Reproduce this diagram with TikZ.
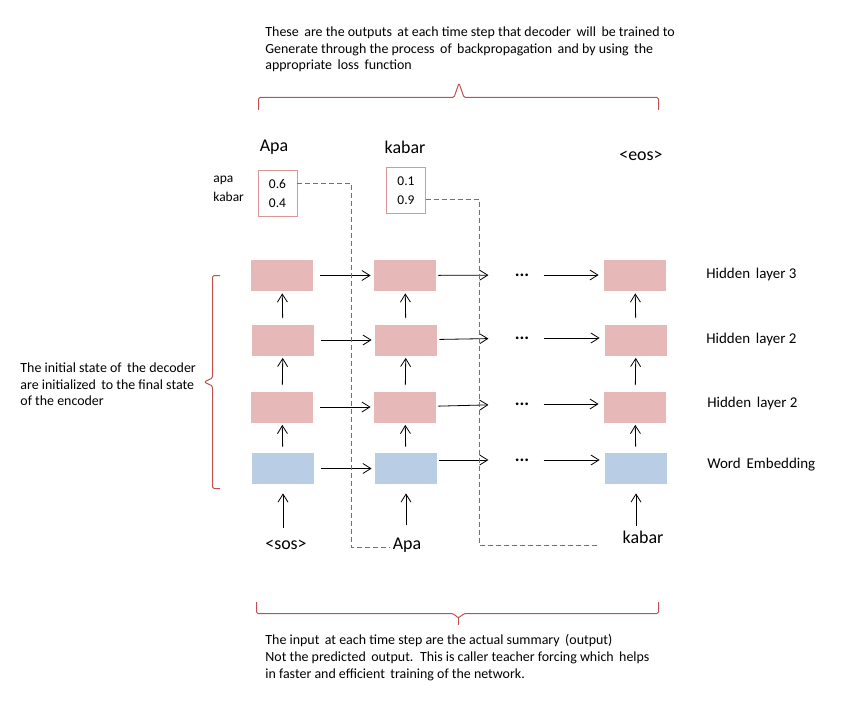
\documentclass[tikz,border=0pt]{standalone}
\usepackage{fontspec}
\setmainfont{Carlito}
\usetikzlibrary{arrows.meta,positioning}
\definecolor{hidpink}{HTML}{E6B9B8}
\definecolor{embblue}{HTML}{B9CDE5}
\definecolor{probred}{HTML}{D99694}
\definecolor{teachred}{HTML}{C0504D}

\begin{document}
\begin{tikzpicture}[
    x=1bp, y=-1bp, line width=0.8bp,
    every node/.style={font=\fontsize{14}{17}\selectfont},
    hidden/.style={fill=hidpink, minimum width=62bp, minimum height=31bp, inner sep=0pt},
    embed/.style={fill=embblue, minimum width=62bp, minimum height=31bp, inner sep=0pt},
    word/.style={font=\fontsize{18}{20}\selectfont, inner sep=2pt},
    probbox/.style={draw=probred, line width=1bp, minimum width=39bp, minimum height=46bp, outer sep=0pt, align=center, inner sep=0pt, font=\fontsize{13.5}{19}\selectfont},
    teach/.style={dash pattern=on 5bp off 3bp, line width=1.1bp},
    curly/.style={line width=1bp, rounded corners=1.5bp},
    note/.style={align=left, anchor=north west, inner sep=0pt},
    layer/.style={anchor=west, inner sep=0pt, font=\fontsize{15}{17}\selectfont},
    gap/.style={inner sep=0pt, font=\fontsize{18}{20}\bfseries},
    >={Straight Barb[length=8bp,width=10bp]}
  ]
    \useasboundingbox (0,0) rectangle (852,703);

    % first time step
    \node[hidden] (hid3a) at (282,275.5) {};
    \node[hidden] (hid2a) at (283,340) {};
    \node[hidden] (hid1a) at (282,407) {};
    \node[embed] (emba) at (283,468.5) {};
    % second time step
    \node[hidden] (hid3b) at (405,275.5) {};
    \node[hidden] (hid2b) at (406,340) {};
    \node[hidden] (hid1b) at (405,407) {};
    \node[embed] (embb) at (406,468.5) {};
    % last time step
    \node[hidden] (hid3c) at (635,275.5) {};
    \node[hidden] (hid2c) at (636,340) {};
    \node[hidden] (hid1c) at (635,407) {};
    \node[embed] (embc) at (636,468.5) {};

    \node[gap] (dots3) at (522,275) {...};
    \node[gap] (dots2) at (522,338) {...};
    \node[gap] (dots1) at (522,404) {...};
    \node[gap] (dots0) at (522,460) {...};

    % layer names
    \node[layer] (lab3) at (706,275) {Hidden\, layer 3};
    \node[layer] (lab2) at (706,340) {Hidden\, layer 2};
    \node[layer] (lab1) at (707,404) {Hidden\, layer 2};
    \node[layer] (lab0) at (707,465) {Word\, Embedding};

    % inputs and outputs
    \node[word] (insos) at (286,545) {<sos>};
    \node[word] (inapa) at (407,545) {Apa};
    \node[word] (inkabar) at (643,537) {kabar};
    \node[word] (outapa) at (274,147) {Apa};
    \node[word] (outkabar) at (405,147) {kabar};
    \node[word] (outeos) at (641,156) {<eos>};

    \node[probbox] (proba) at (277.5,193.5) {0.6\\0.4};
    \node[probbox] (probb) at (406,190.5) {0.1\\0.9};
    \node[note, font=\fontsize{13.5}{19}\selectfont] (vocab) at (213,176) {apa\\kabar};

    % horizontal connections
    \draw[->, shorten <=7bp, shorten >=3bp] (hid3a) -- (hid3b);
    \draw[->, shorten <=7bp, shorten >=3bp] (hid2a) -- (hid2b);
    \draw[->, shorten <=7bp, shorten >=3bp] (hid1a) -- (hid1b);
    \draw[->, shorten <=7bp, shorten >=3bp] (emba.east |- embb) -- (embb);
    \draw[->, shorten <=2bp, shorten >=26bp] (hid3b) -- (dots3);
    \draw[->, shorten <=2bp, shorten >=26bp] (hid2b) -- (dots2);
    \draw[->, shorten <=2bp, shorten >=26bp] (hid1b) -- (dots1);
    \draw[->, shorten <=2bp, shorten >=26bp] (embb.east |- dots0) -- (dots0);
    \draw[->, shorten <=14bp, shorten >=5bp] (dots3) -- (hid3c.west |- dots3);
    \draw[->, shorten <=14bp, shorten >=5bp] (dots2) -- (hid2c.west |- dots2);
    \draw[->, shorten <=14bp, shorten >=5bp] (dots1) -- (hid1c.west |- dots1);
    \draw[->, shorten <=14bp, shorten >=5bp] (dots0) -- (embc.west |- dots0);

    % vertical connections
    \draw[->, shorten <=6bp, shorten >=2bp] (emba) -- (hid1a);
    \draw[->, shorten <=6bp, shorten >=2bp] (hid1a) -- (hid2a);
    \draw[->, shorten <=6bp, shorten >=2bp] (hid2a) -- (hid3a);
    \draw[->, shorten <=6bp, shorten >=2bp] (embb) -- (hid1b);
    \draw[->, shorten <=6bp, shorten >=2bp] (hid1b) -- (hid2b);
    \draw[->, shorten <=6bp, shorten >=2bp] (hid2b) -- (hid3b);
    \draw[->, shorten <=6bp, shorten >=2bp] (embc) -- (hid1c);
    \draw[->, shorten <=6bp, shorten >=2bp] (hid1c) -- (hid2c);
    \draw[->, shorten <=6bp, shorten >=2bp] (hid2c) -- (hid3c);
    \draw[->, shorten <=10bp, shorten >=9bp] (emba.south |- insos.north) -- (emba.south);
    \draw[->, shorten <=10bp, shorten >=9bp] (embb.south |- inapa.north) -- (embb.south);
    \draw[->, shorten <=2bp, shorten >=9bp] (embc.south |- inkabar.north) -- (embc.south);

    % teacher forcing
    \draw[teachred, teach] ([yshift=10bp]proba.east) -- ++(54.5,0) |- ([yshift=-2.5bp]inapa.west);
    \draw[teachred, teach, shorten >=21bp] ([yshift=-9bp]probb.east) -- ++(54,0) |- ([yshift=-8.5bp]inkabar.west);

    % braces
    \draw[teachred, curly] (258.5,110) -- (258.5,97.5) -- (454,97.5) -- (459,83) -- (464,97.5) -- (658.5,97.5) -- (658.5,110);
    \draw[teachred, curly] (256.5,602) -- (256.5,613.5) -- (453,613.5) -- (458.5,618) -- (464,613.5) -- (658.5,613.5) -- (658.5,602);
    \draw[teachred, line width=1bp] (458.5,617) -- (458.5,625);
    \draw[teachred, curly] (220,275.5) -- (212.5,275.5) -- (212.5,378) -- (204,382) -- (212.5,386) -- (212.5,488.5) -- (220,488.5);

    % notes
    \node[note] (topnote) at (265,26) {These\, are the outputs\, at each time step that decoder\, will\, be trained to\\Generate through the process\, of\, backpropagation\, and by using\, the\\appropriate\, loss\, function};
    \node[note] (leftnote) at (20,362) {The initial state of\, the decoder\\are initialized\, to the final state\\of the encoder};
    \node[note] (botnote) at (265,634) {The input\, at each time step are the actual summary\, (output)\\Not the predicted\, output.\, This is caller teacher forcing which\, helps\\in faster and efficient\, training of the network.};
  \end{tikzpicture}
\end{document}
